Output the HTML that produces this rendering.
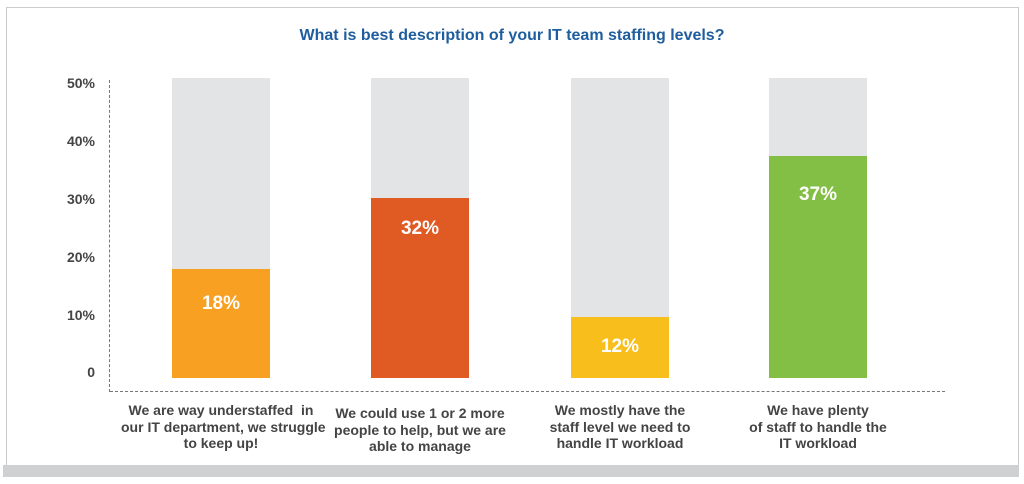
<!DOCTYPE html>
<html><head><meta charset="utf-8"><style>
body{margin:0;width:1024px;height:484px;background:#fff;position:relative;overflow:hidden;font-family:"Liberation Sans",sans-serif}
.frame{position:absolute;left:6px;top:7px;width:1011px;height:457px;border:1px solid #ccc;border-bottom:none}
.band{position:absolute;left:3px;top:465px;width:1016px;height:12px;background:#cfd0d2}
.t{position:absolute;white-space:nowrap}
.title{left:0;width:1024px;top:27px;text-align:center;color:#1f5e9e;font-weight:bold;font-size:16px}
.yl{right:929px;font-size:14px;font-weight:bold;color:#444;}
.bg{position:absolute;background:#e3e4e6;width:98px;top:78px;height:300px}
.bar{position:absolute;width:98px}
.v{width:98px;text-align:center;color:#fff;font-weight:bold;font-size:19px}
.c{width:200px;text-align:center;font-family:"Liberation Sans Narrow","Liberation Sans",sans-serif;font-weight:bold;font-size:14px;line-height:16.5px;color:#444}
</style></head><body>
<div class="frame"></div><div class="band"></div>
<div class="t title">What is best description of your IT team staffing levels?</div>
<div class="t yl" style="top:75px">50%</div>
<div class="t yl" style="top:133px">40%</div>
<div class="t yl" style="top:191px">30%</div>
<div class="t yl" style="top:249px">20%</div>
<div class="t yl" style="top:307px">10%</div>
<div class="t yl" style="top:364px">0</div>
<div style="position:absolute;left:109px;top:80px;height:312px;border-left:1px dashed #777"></div>
<div style="position:absolute;left:110px;top:391px;width:835px;border-top:1px dashed #777"></div>
<div class="bg" style="left:172px"></div><div class="bar" style="left:172px;top:269px;height:109px;background:#f7a021"></div>
<div class="bg" style="left:371px"></div><div class="bar" style="left:371px;top:198px;height:180px;background:#e05a24"></div>
<div class="bg" style="left:571px"></div><div class="bar" style="left:571px;top:317px;height:61px;background:#f8bf1c"></div>
<div class="bg" style="left:769px"></div><div class="bar" style="left:769px;top:156px;height:222px;background:#82bf44"></div>
<div class="t v" style="left:172px;top:293px">18%</div>
<div class="t v" style="left:371px;top:218px">32%</div>
<div class="t v" style="left:571px;top:336px">12%</div>
<div class="t v" style="left:769px;top:184px">37%</div>
<div class="t c" style="left:121px;top:402px">We are way understaffed&nbsp; in<br>our IT department, we struggle<br>to keep up!</div>
<div class="t c" style="left:320px;top:405px">We could use 1 or 2 more<br>people to help, but we are<br>able to manage</div>
<div class="t c" style="left:520px;top:402px">We mostly have the<br>staff level we need to<br>handle IT workload</div>
<div class="t c" style="left:718px;top:402px">We have plenty<br>of staff to handle the<br>IT workload</div>
</body></html>
